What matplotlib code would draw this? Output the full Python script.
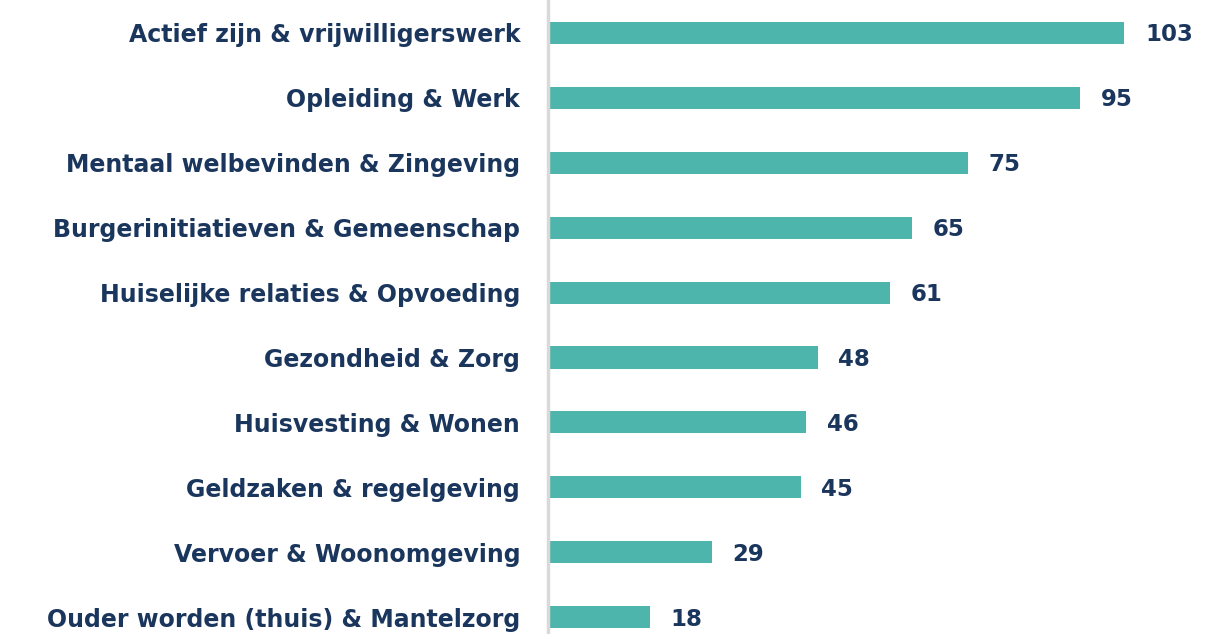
import matplotlib.pyplot as plt

# data
categories = [
    'Actief zijn & vrijwilligerswerk',
    'Opleiding & Werk',
    'Mentaal welbevinden & Zingeving',
    'Burgerinitiatieven & Gemeenschap',
    'Huiselijke relaties & Opvoeding',
    'Gezondheid & Zorg',
    'Huisvesting & Wonen',
    'Geldzaken & regelgeving',
    'Vervoer & Woonomgeving',
    'Ouder worden (thuis) & Mantelzorg',
]
values = [103, 95, 75, 65, 61, 48, 46, 45, 29, 18]

bar_color = '#4db5ab'
text_color = '#1b365d'
font = ['DejaVu Sans']

fig = plt.figure(figsize=(12.11, 6.34), dpi=100)
ax = fig.add_axes([548 / 1211, 0, 1 - 548 / 1211, 1])

pos = list(range(len(categories)))
ax.barh(pos, values, height=0.34, color=bar_color, left=0.3)

ax.set_xlim(0, 118.8)
ax.set_ylim(9.26, -0.508)

for p, v in zip(pos, values):
    ax.text(v + 4.0, p + 0.03, str(v), va='center', ha='left', fontsize=16.5,
            fontweight='bold', color=text_color, family=font)

ax.set_yticks(pos)
ax.set_yticklabels(categories, fontsize=17, fontweight='bold', color=text_color, family=font)
ax.tick_params(axis='y', length=0, pad=20)
ax.set_xticks([])

for s in ['top', 'right', 'bottom']:
    ax.spines[s].set_visible(False)
ax.spines['left'].set_color('#d9d9d9')
ax.spines['left'].set_linewidth(2.5)

fig.savefig('out.png', dpi=100)
